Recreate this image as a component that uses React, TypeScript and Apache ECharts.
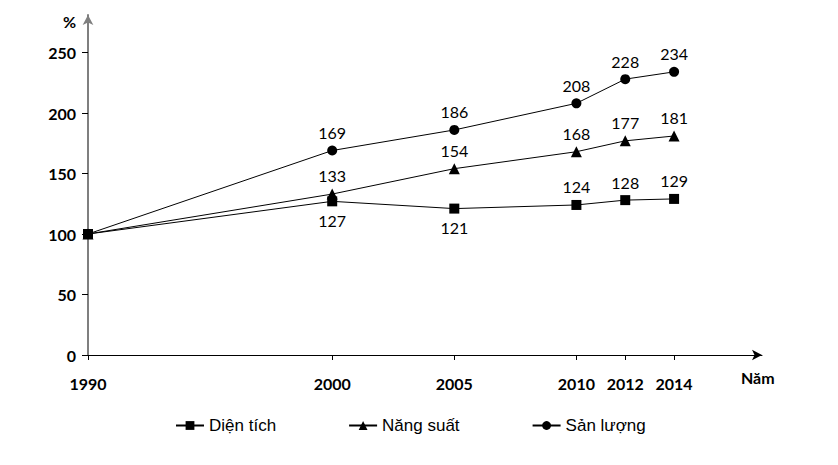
import React, { useEffect, useRef } from "react";
import * as echarts from "echarts";

const years = [1990, 2000, 2005, 2010, 2012, 2014];
const dienTich = [100, 127, 121, 124, 128, 129];
const nangSuat = [100, 133, 154, 168, 177, 181];
const sanLuong = [100, 169, 186, 208, 228, 234];
const yTicks = [0, 50, 100, 150, 200, 250];
const seriesNames = ["Diện tích", "Năng suất", "Sản lượng"];
const dienTichBelow = [1, 2];

const labelFont = { fontFamily: "Lato", fontSize: 16, color: "#000" };

function buildData(values: number[], below: number[] = []) {
  return values.map((v, i) => ({
    value: [years[i], v],
    label: {
      show: i > 0,
      position: below.includes(i) ? "bottom" : "top",
      distance: below.includes(i) ? 6 : 5,
    },
  }));
}

export default function App() {
  const ref = useRef<HTMLDivElement>(null);
  useEffect(() => {
    if (!ref.current) return;
    const chart = echarts.init(ref.current, undefined, { renderer: "svg" });
    const common = {
      type: "line",
      lineStyle: { color: "#000", width: 1 },
      itemStyle: { color: "#000" },
      label: { ...labelFont, formatter: (p: any) => String(p.value[1]) },
      z: 3,
    };
    chart.setOption({
      animation: false,
      backgroundColor: "#fff",
      grid: { left: 88, right: 76, top: 15, bottom: 110, containLabel: false, outerBoundsMode: "none" },
      legend: {
        left: 170,
        top: 412,
        itemWidth: 28,
        itemHeight: 11,
        itemGap: 72,
        textStyle: { fontFamily: "Liberation Sans", fontSize: 17, color: "#000" },
        data: seriesNames,
      },
      xAxis: {
        type: "value",
        min: 1990,
        max: 2017.6,
        splitLine: { show: false },
        axisLine: {
          lineStyle: { color: "#000", width: 1 },
          symbol: ["none", "arrow"],
          symbolSize: [8, 10],
        },
        axisTick: { show: true, length: 5, lineStyle: { color: "#000" }, customValues: years },
        axisLabel: {
          customValues: years,
          margin: 20,
          fontFamily: "Lato",
          fontWeight: "bold",
          fontSize: 16,
          color: "#000",
          formatter: (v: number) => String(v),
        },
      },
      yAxis: {
        type: "value",
        min: 0,
        max: 281,
        splitLine: { show: false },
        axisLine: {
          show: true,
          lineStyle: { color: "#7f7f7f", width: 2 },
          symbol: ["none", "arrow"],
          symbolSize: [8, 10],
        },
        axisTick: { show: true, length: 6, lineStyle: { color: "#000" }, customValues: yTicks },
        axisLabel: {
          customValues: yTicks,
          margin: 12,
          fontFamily: "Lato",
          fontWeight: "bold",
          fontSize: 16,
          color: "#000",
        },
      },
      graphic: [
        {
          type: "text",
          left: 63,
          top: 13,
          style: { text: "%", fontFamily: "Lato", fontWeight: "bold", fontSize: 16, fill: "#000" },
        },
        {
          type: "text",
          left: 741,
          top: 369,
          style: { text: "Năm", fontFamily: "Lato", fontWeight: "bold", fontSize: 16, fill: "#000" },
        },
      ],
      series: [
        { ...common, name: seriesNames[0], symbol: "rect", symbolSize: 10, data: buildData(dienTich, dienTichBelow) },
        { ...common, name: seriesNames[1], symbol: "triangle", symbolSize: 11, data: buildData(nangSuat) },
        { ...common, name: seriesNames[2], symbol: "circle", symbolSize: 10, data: buildData(sanLuong) },
      ],
    });
    return () => chart.dispose();
  }, []);
  return (
    <div
      ref={ref}
      style={{ position: "absolute", left: 0, top: 0, width: 838, height: 465 }}
    />
  );
}
